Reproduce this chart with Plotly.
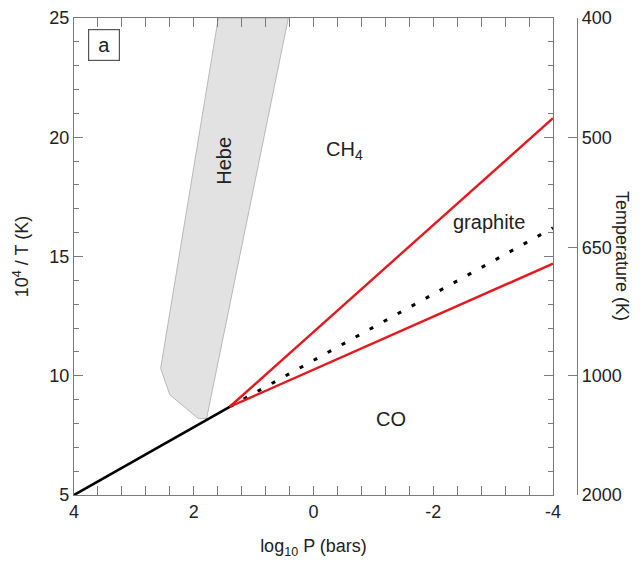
import plotly.graph_objects as go

# ---- data ----
black_x = [4.0, 1.4]
black_y = [5.0, 8.7]
red_upper_x = [1.4, -4.0]
red_upper_y = [8.7, 20.8]
red_lower_x = [1.4, -4.0]
red_lower_y = [8.7, 14.7]
dotted_x = [1.4, -4.0]
dotted_y = [8.7, 16.2]
hebe_x = [1.59, 0.42, 1.785, 1.925, 2.40, 2.553, 1.59]
hebe_y = [25.0, 25.0, 8.21, 8.21, 9.2, 10.31, 25.0]

x_tickvals = [4, 2, 0, -2, -4]
x_ticktext = ["4", "2", "0", "-2", "-4"]
y_tickvals = [5, 10, 15, 20, 25]
temp_labels = [400, 500, 650, 1000, 2000]
temp_tickvals = [1e4 / t for t in temp_labels]
temp_ticktext = [str(t) for t in temp_labels]

labels = [
    ("CH<sub>4</sub>", -0.52, 19.45, 0),
    ("graphite", -2.93, 16.44, 0),
    ("CO", -1.29, 8.17, 0),
    ("Hebe", 1.50, 19.0, -90),
]

FONT = "Liberation Sans, Arial, sans-serif"
AX = "#7a7a7a"
TXT = "#222222"
RED = "#e3191f"

ML, MR, MT, MB = 66, 71, 10, 80
PW = 640 - ML - MR
PH = 567 - MT - MB

fig = go.Figure()
fig.add_trace(go.Scatter(x=hebe_x, y=hebe_y, fill="toself", fillcolor="#e2e2e2",
                         mode="lines", line=dict(color="#a0a0a0", width=0.7),
                         hoverinfo="skip", showlegend=False))
fig.add_trace(go.Scatter(x=black_x, y=black_y, mode="lines",
                         line=dict(color="black", width=2.6), showlegend=False))
fig.add_trace(go.Scatter(x=dotted_x, y=dotted_y, mode="lines",
                         line=dict(color="black", width=3, dash="4px,12px"), showlegend=False))
fig.add_trace(go.Scatter(x=red_upper_x, y=red_upper_y, mode="lines",
                         line=dict(color=RED, width=2.4), showlegend=False))
fig.add_trace(go.Scatter(x=red_lower_x, y=red_lower_y, mode="lines",
                         line=dict(color=RED, width=2.4), showlegend=False))
# invisible trace to attach the temperature axis
fig.add_trace(go.Scatter(x=[0], y=[15], yaxis="y2", mode="markers",
                         marker=dict(opacity=0), hoverinfo="skip", showlegend=False))

for text, x, y, ang in labels:
    fig.add_annotation(x=x, y=y, text=text, showarrow=False, textangle=ang,
                       font=dict(family=FONT, size=20, color=TXT))

# panel label "a" in a box
fig.add_annotation(xref="paper", yref="paper", x=0.0, y=1.0, xanchor="left", yanchor="top",
                   xshift=14, yshift=-11, text="a", showarrow=False,
                   font=dict(family=FONT, size=20, color=TXT),
                   bordercolor="#555555", borderwidth=1.2, borderpad=4, width=22, height=22)

# right-axis title, reading top to bottom
fig.add_annotation(xref="paper", yref="paper", x=(614 - ML) / PW, y=(487 - 248) / PH,
                   xanchor="center", yanchor="middle",
                   text="Temperature (K)", showarrow=False, textangle=90,
                   font=dict(family=FONT, size=18, color=TXT))

fig.update_layout(
    width=640, height=567,
    margin=dict(l=ML, r=MR, t=MT, b=MB, autoexpand=False),
    plot_bgcolor="white", paper_bgcolor="white",
    font=dict(family=FONT, size=18, color=TXT),
    xaxis=dict(
        domain=[0, 479 / PW], range=[4, -4], automargin=False,
        tickvals=x_tickvals, ticktext=x_ticktext,
        ticks="inside", ticklen=9, tickcolor=AX, tickwidth=1,
        minor=dict(dtick=0.4, tick0=0, ticks="inside", ticklen=5, tickcolor=AX),
        showline=True, linecolor=AX, linewidth=1.3, mirror="allticks",
        showgrid=False, zeroline=False,
        title=dict(text="log<sub>10</sub> P (bars)", standoff=18,
                   font=dict(size=18, color=TXT)),
        tickfont=dict(size=18, color=TXT),
    ),
    yaxis=dict(
        range=[5, 25], tickvals=y_tickvals, automargin=False,
        ticks="inside", ticklen=9, tickcolor=AX, tickwidth=1,
        minor=dict(dtick=1, tick0=0, ticks="inside", ticklen=5, tickcolor=AX),
        showline=True, linecolor=AX, linewidth=1.3, mirror="allticks",
        showgrid=False, zeroline=False,
        title=dict(text="10<sup>4</sup> / T (K)", standoff=15,
                   font=dict(size=18, color=TXT)),
        tickfont=dict(size=18, color=TXT),
    ),
    yaxis2=dict(
        overlaying="y", side="right", anchor="free", position=1.0, automargin=False,
        range=[5, 25], tickvals=temp_tickvals, ticktext=temp_ticktext,
        ticks="inside", ticklen=9, tickcolor=AX,
        showline=True, linecolor=AX, linewidth=1.3,
        showgrid=False, zeroline=False,
        tickfont=dict(size=18, color=TXT),
    ),
)

fig.write_html("out.html")
